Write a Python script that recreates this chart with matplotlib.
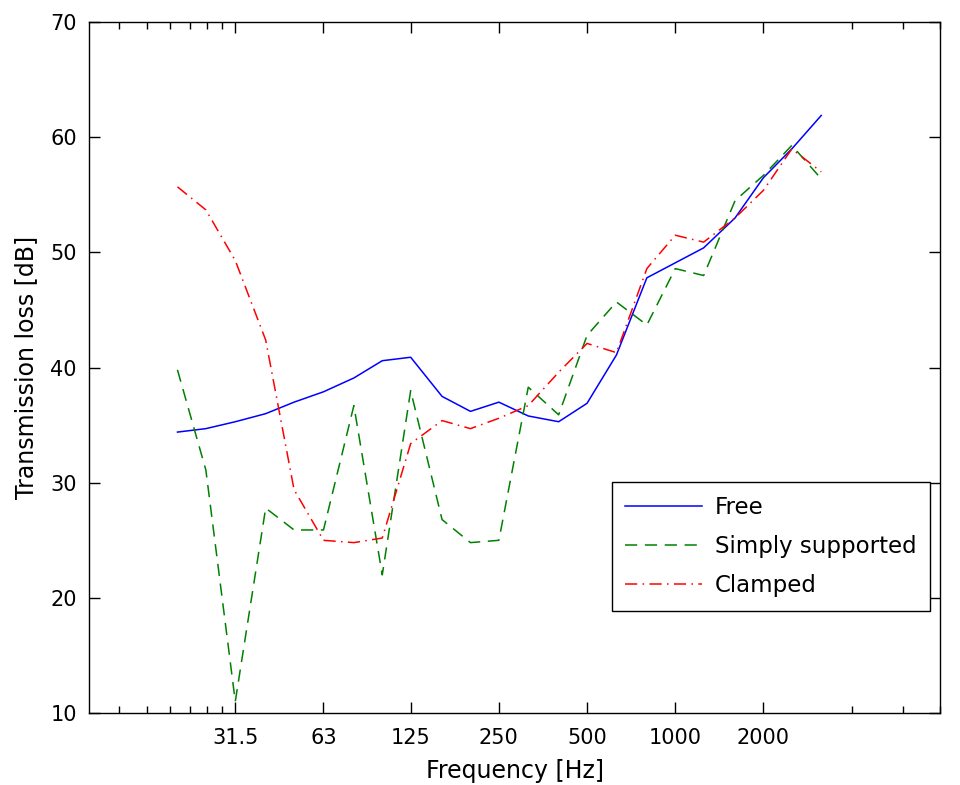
import numpy as np
import matplotlib
matplotlib.use('Agg')
import matplotlib.pyplot as plt
from matplotlib.ticker import FixedLocator, NullFormatter

# third-octave band centre frequencies [Hz]
freq = [20, 25, 31.5, 40, 50, 63, 80, 100, 125, 160, 200, 250, 315,
        400, 500, 630, 800, 1000, 1250, 1600, 2000, 2500, 3150]

# transmission loss [dB]
tl_free = [34.4, 34.7, 35.3, 36.0, 37.0, 37.9, 39.1, 40.6, 40.9, 37.5, 36.2, 37.0,
           35.8, 35.3, 36.9, 41.1, 47.8, 49.1, 50.4, 53.0, 56.5, 59.0, 61.9]
tl_simply = [39.8, 31.1, 11.0, 27.8, 25.9, 25.9, 36.7, 22.0, 38.0, 26.8, 24.8, 25.0,
             38.3, 35.9, 42.8, 45.7, 43.7, 48.6, 48.0, 54.5, 56.7, 59.3, 56.4]
tl_clamped = [55.7, 53.7, 49.3, 42.4, 29.4, 25.0, 24.8, 25.2, 33.4, 35.4, 34.7, 35.6,
              36.7, 39.6, 42.1, 41.3, 48.6, 51.5, 50.9, 53.0, 55.4, 59.0, 57.0]

xticks = [31.5, 63, 125, 250, 500, 1000, 2000]
xticklabels = ['31.5', '63', '125', '250', '500', '1000', '2000']
# minor ticks as multiples of the outer major ticks (old MATLAB behaviour)
xminor = [12.6, 15.75, 18.9, 22.05, 25.2, 28.35, 4000, 6000, 8000]
yticks = [10, 20, 30, 40, 50, 60, 70]

plt.rcParams['font.family'] = ['DejaVu Sans']

fig = plt.figure(figsize=(9.6, 7.85), dpi=100)
ax = fig.add_axes([0.093, 0.0917, 0.886, 0.880])

ax.semilogx(freq, tl_free, color=(0, 0, 1), lw=1.1, label='Free')
ax.semilogx(freq, tl_simply, color=(0, 0.5, 0), lw=1.1, dashes=(8, 5),
            label='Simply supported')
ax.semilogx(freq, tl_clamped, color=(1, 0, 0), lw=1.1, dashes=(8, 3.5, 1, 3.5),
            label='Clamped')

ax.set_xlim(10, 8000)
ax.set_ylim(10, 70)
ax.xaxis.set_major_locator(FixedLocator(xticks))
ax.set_xticklabels(xticklabels)
ax.xaxis.set_minor_locator(FixedLocator(xminor))
ax.xaxis.set_minor_formatter(NullFormatter())
ax.set_yticks(yticks)

ax.tick_params(which='both', direction='in', top=True, right=True, labelsize=15,
               width=1, color='black')
ax.tick_params(which='major', length=8)
ax.tick_params(which='minor', length=5)
ax.tick_params(axis='x', pad=11)
ax.tick_params(axis='y', pad=9)
for s in ax.spines.values():
    s.set_linewidth(1.0)

ax.set_xlabel('Frequency [Hz]', fontsize=17, labelpad=8)
ax.set_ylabel('Transmission loss [dB]', fontsize=17, labelpad=9)

leg = ax.legend(loc='upper left', bbox_to_anchor=(0.614, 0.334), borderaxespad=0,
                fontsize=16.5, fancybox=False, edgecolor='black', framealpha=1,
                handlelength=3.36, handletextpad=0.55, borderpad=0.6, labelspacing=0.7)
leg.get_frame().set_linewidth(1.0)

plt.savefig('out.png', dpi=100)
plt.close('all')
